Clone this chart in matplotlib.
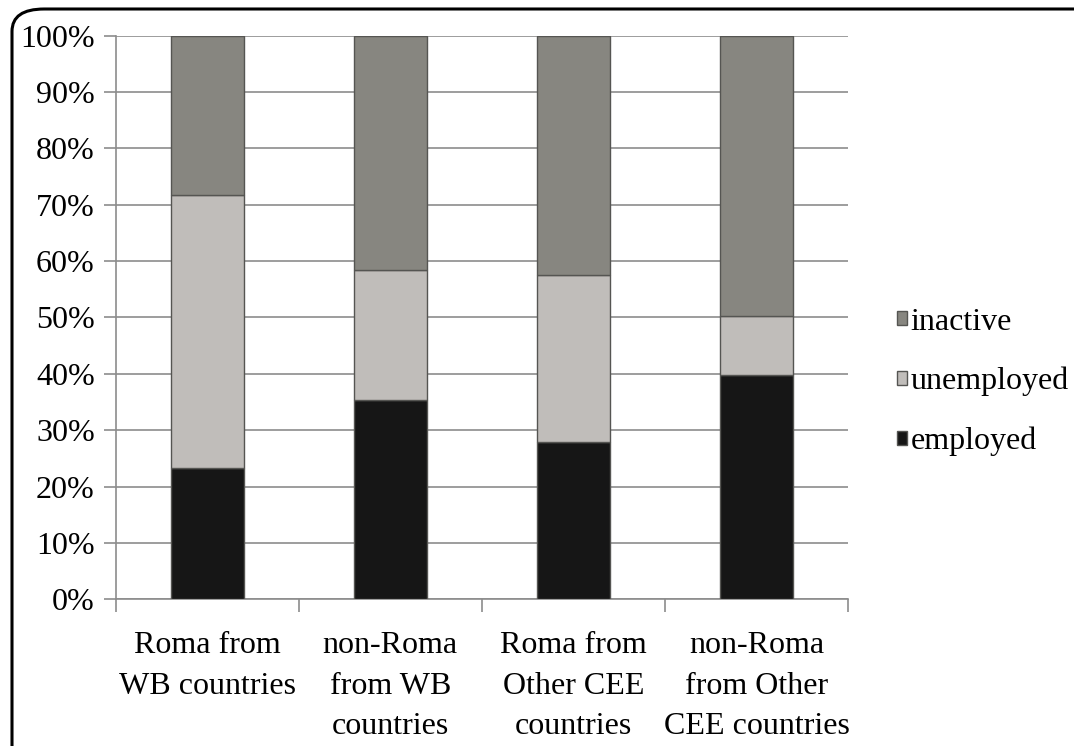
import matplotlib
matplotlib.use("Agg")
import matplotlib.pyplot as plt
from matplotlib.font_manager import FontProperties
from matplotlib.patches import FancyBboxPatch, Patch
import numpy as np

categories = ["Roma from\nWB countries", "non-Roma\nfrom WB\ncountries",
              "Roma from\nOther CEE\ncountries", "non-Roma\nfrom Other\nCEE countries"]
employed = [23.3, 35.4, 27.9, 39.8]
unemployed = [48.4, 23.0, 29.7, 10.5]
inactive = [28.3, 41.6, 42.4, 49.7]
series_names = ["employed", "unemployed", "inactive"]
colors = ["#161616", "#c0bdba", "#878680"]

plt.rcParams['font.family'] = 'serif'
plt.rcParams['font.serif'] = ['Liberation Serif']
label_font = FontProperties(family="Liberation Serif", size=23)

fig = plt.figure(figsize=(10.74, 7.46), dpi=100)
ax = fig.add_axes([0.1077, 0.1967, 0.6819, 0.7554])

x = np.arange(len(categories))
bottom = np.zeros(len(categories))
for vals, col in zip([employed, unemployed, inactive], colors):
    ax.bar(x, vals, width=0.40, bottom=bottom, color=col,
           edgecolor="#555552", linewidth=1.0, zorder=3)
    bottom += np.array(vals)

ax.set_xlim(-0.5, len(categories) - 0.5)
ax.set_ylim(0, 100)
ax.set_yticks(np.arange(0, 101, 10))
ax.set_yticklabels([f"{v}%" for v in range(0, 101, 10)], fontproperties=label_font)
ax.yaxis.grid(True, color="#8c8c8c", linewidth=1.2, zorder=0)

ax.set_xticks(x)
ax.set_xticklabels(categories, fontproperties=label_font, linespacing=1.52)
ax.set_xticks(np.arange(-0.5, len(categories), 1.0), minor=True)
ax.tick_params(axis="x", which="major", length=0, pad=23)
ax.tick_params(axis="x", which="minor", length=9, color="#8c8c8c", width=1.2)
ax.tick_params(axis="y", length=9, color="#8c8c8c", width=1.2, pad=6)

for side in ["top", "right"]:
    ax.spines[side].set_visible(False)
for side in ["left", "bottom"]:
    ax.spines[side].set_color("#8c8c8c")
    ax.spines[side].set_linewidth(1.2)

handles = [Patch(facecolor=c, edgecolor="#555552", linewidth=1.0) for c in colors]
leg = fig.legend(handles[::-1], series_names[::-1], loc="center left",
                 bbox_to_anchor=(0.8145, 0.488), frameon=False, prop=label_font,
                 handlelength=0.32, handleheight=0.32, handletextpad=0.1,
                 labelspacing=0.95, borderpad=0.2)

# rounded frame around the figure
frame = FancyBboxPatch((12 / 1074, -0.1), 1.2, (737 + 74.6) / 746,
                       boxstyle="round,pad=0,rounding_size=0.03",
                       transform=fig.transFigure, fill=False,
                       edgecolor="black", linewidth=2.2, clip_on=False)
fig.patches.append(frame)

fig.savefig("out.png", dpi=100)
